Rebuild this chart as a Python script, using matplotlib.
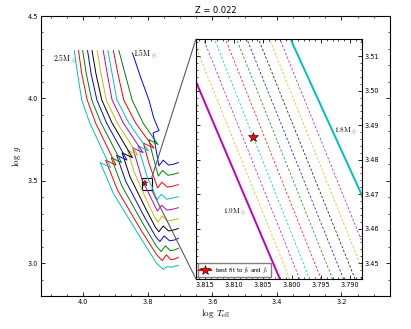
import numpy as np
import matplotlib
matplotlib.use('Agg')
import matplotlib.pyplot as plt
from matplotlib.ticker import MultipleLocator, FormatStrFormatter
from matplotlib.patches import Rectangle, ConnectionPatch

plt.rcParams['mathtext.fontset'] = 'cm'
plt.rcParams['axes.prop_cycle'] = plt.cycler(color=['b', 'g', 'r', 'c', 'm', 'y', 'k'])

# evolutionary tracks for Z = 0.022 : log Teff and log g
masses = [1.5, 1.6, 1.7, 1.8, 1.9, 2.0, 2.1, 2.2, 2.3, 2.4, 2.5]

t15 = [3.847, 3.822, 3.796, 3.781, 3.765, 3.783, 3.775, 3.765, 3.752, 3.735, 3.720, 3.705]
g15 = [4.275, 4.13, 3.99, 3.88, 3.805, 3.790, 3.700, 3.590, 3.625, 3.595, 3.600, 3.610]
t16 = [3.889, 3.870, 3.848, 3.814, 3.768, 3.796, 3.785, 3.767, 3.754, 3.737, 3.722, 3.705]
g16 = [4.29, 4.15, 3.99, 3.85, 3.720, 3.750, 3.660, 3.528, 3.563, 3.533, 3.538, 3.548]
t17 = [3.906, 3.892, 3.874, 3.837, 3.781, 3.813, 3.795, 3.769, 3.756, 3.739, 3.724, 3.705]
g17 = [4.29, 4.15, 3.99, 3.85, 3.698, 3.728, 3.600, 3.456, 3.491, 3.461, 3.466, 3.476]
t18 = [3.923, 3.910, 3.895, 3.858, 3.798, 3.830, 3.800, 3.788, 3.771, 3.758, 3.741, 3.726, 3.705]
g18 = [4.29, 4.15, 3.99, 3.85, 3.682, 3.712, 3.514, 3.470, 3.383, 3.418, 3.388, 3.393, 3.403]
t19 = [3.9375, 3.925, 3.910, 3.875, 3.814, 3.846, 3.8166, 3.8021, 3.770, 3.757, 3.740, 3.725, 3.705]
g19 = [4.29, 4.15, 3.99, 3.85, 3.670, 3.700, 3.5026, 3.4454, 3.316, 3.351, 3.321, 3.326, 3.336]
t20 = [3.956, 3.944, 3.928, 3.894, 3.830, 3.862, 3.842, 3.803, 3.7775, 3.768, 3.755, 3.738, 3.723, 3.705]
g20 = [4.29, 4.15, 3.99, 3.85, 3.655, 3.685, 3.5545, 3.3805, 3.276, 3.250, 3.285, 3.255, 3.260, 3.270]
t21 = [3.972, 3.960, 3.942, 3.910, 3.847, 3.879, 3.855, 3.807, 3.7765, 3.765, 3.752, 3.735, 3.720, 3.705]
g21 = [4.29, 4.15, 3.99, 3.85, 3.640, 3.670, 3.526, 3.334, 3.219, 3.190, 3.225, 3.195, 3.200, 3.210]
t22 = [3.986, 3.975, 3.957, 3.927, 3.864, 3.896, 3.868, 3.812, 3.7755, 3.762, 3.749, 3.732, 3.717, 3.705]
g22 = [4.29, 4.15, 3.99, 3.85, 3.625, 3.655, 3.4975, 3.2875, 3.1615, 3.130, 3.165, 3.135, 3.140, 3.150]
t23 = [4.001, 3.990, 3.973, 3.944, 3.881, 3.913, 3.880, 3.815, 3.7735, 3.758, 3.745, 3.730, 3.716, 3.705]
g23 = [4.29, 4.15, 3.99, 3.85, 3.610, 3.640, 3.469, 3.241, 3.104, 3.070, 3.105, 3.075, 3.080, 3.090]
t24 = [4.014, 4.004, 3.987, 3.961, 3.898, 3.930, 3.893, 3.820, 3.7725, 3.755, 3.742, 3.728, 3.715, 3.705]
g24 = [4.29, 4.15, 3.99, 3.85, 3.595, 3.625, 3.442, 3.198, 3.052, 3.015, 3.050, 3.020, 3.025, 3.035]
t25 = [4.027, 4.017, 4.004, 3.979, 3.915, 3.947, 3.906, 3.824, 3.772, 3.752, 3.740, 3.725, 3.713, 3.705]
g25 = [4.29, 4.15, 3.99, 3.85, 3.580, 3.610, 3.423, 3.160, 2.998, 2.962, 2.978, 2.975, 2.982, 2.985]

tracks = [(t15, g15), (t16, g16), (t17, g17), (t18, g18), (t19, g19), (t20, g20),
          (t21, g21), (t22, g22), (t23, g23), (t24, g24), (t25, g25)]

# finer grid 1.81 ... 1.89 Msun, only shown in the zoom (log Teff at the two log g levels)
fine_masses = [1.81, 1.82, 1.83, 1.84, 1.85, 1.86, 1.87, 1.88, 1.89]
fine_g = [3.52, 3.44]
fine_t_top = [3.8033, 3.8051, 3.8070, 3.8090, 3.8108, 3.8127, 3.8146, 3.8165, 3.8184]
fine_t_bot = [3.7840, 3.7859, 3.7878, 3.7898, 3.7917, 3.7937, 3.7957, 3.7974, 3.7991]

# best fit model
best_teff = 3.8067
best_logg = 3.4865

zoom_xlim = (3.8166, 3.7879)
zoom_ylim = (3.4454, 3.515)

fig = plt.figure(figsize=(4.11, 3.29), dpi=100)
ax = fig.add_axes([0.0998, 0.1003, 0.849, 0.851])

for t, g in tracks:
    ax.plot(t, g, lw=0.7)
ax.plot([best_teff], [best_logg], '*', color='r', mec='k', mew=0.3, ms=5)

ax.text(4.0185, 4.239, r'$\rm 2.5M_\odot$', ha='right', va='center', fontsize=5.5)
ax.text(3.846, 4.27, r'$\rm 1.5M_\odot$', ha='left', va='center', fontsize=5.5)

ax.set_xlim(4.13, 3.05)
ax.set_ylim(2.8, 4.5)
ax.xaxis.set_major_locator(MultipleLocator(0.2))
ax.xaxis.set_minor_locator(MultipleLocator(0.05))
ax.yaxis.set_major_locator(MultipleLocator(0.5))
ax.yaxis.set_minor_locator(MultipleLocator(0.1))
ax.tick_params(which='both', direction='in', top=True, right=True, labelsize=4.7, pad=2.5)
ax.tick_params(which='major', length=3, width=0.6)
ax.tick_params(which='minor', length=1.5, width=0.5)
ax.set_xlabel(r'$\log\ T_{\rm eff}$', fontsize=6.5, labelpad=1)
ax.set_ylabel(r'$\log\ g$', fontsize=6.5, labelpad=3)
ax.set_title('Z = 0.022', fontsize=6, pad=2)

# zoomed panel
axins = fig.add_axes([0.4769, 0.152, 0.4039, 0.7295])
for t, g in tracks:
    axins.plot(t, g, lw=1.4)
for i in range(len(fine_masses)):
    axins.plot([fine_t_top[i], fine_t_bot[i]], fine_g, '--', lw=0.5, dashes=(3.5, 2.5))
axins.plot([best_teff], [best_logg], 'r*-', mec='k', mew=0.4, ms=7,
           label=r'best fit to $f_0$ and $f_1$')
axins.text(3.7928, 3.4885, r'$\rm 1.8M_\odot$', ha='left', va='center', fontsize=5.3)
axins.text(3.8120, 3.4650, r'$\rm 1.9M_\odot$', ha='left', va='center', fontsize=5.3)
axins.set_xlim(*zoom_xlim)
axins.set_ylim(*zoom_ylim)
axins.xaxis.set_major_locator(MultipleLocator(0.005))
axins.xaxis.set_minor_locator(MultipleLocator(0.001))
axins.yaxis.set_major_locator(MultipleLocator(0.01))
axins.yaxis.set_minor_locator(MultipleLocator(0.002))
axins.yaxis.tick_right()
axins.tick_params(which='both', direction='in', top=True, left=True, right=True,
                  labelsize=4.7, pad=2)
axins.tick_params(which='major', length=3, width=0.6)
axins.tick_params(which='minor', length=1.5, width=0.5)
axins.xaxis.set_major_formatter(FormatStrFormatter('%.3f'))
axins.legend(loc='lower left', fontsize=4, numpoints=1, handlelength=2,
             borderpad=0.4, borderaxespad=0.3, framealpha=1, fancybox=False,
             edgecolor='0.5')

# box on the main panel and the lines to the zoom
ax.add_patch(Rectangle((zoom_xlim[1], zoom_ylim[0]), zoom_xlim[0] - zoom_xlim[1],
                       zoom_ylim[1] - zoom_ylim[0], fill=False, ec='k', lw=0.8))
for ya, yb in [(1, zoom_ylim[1]), (0, zoom_ylim[0])]:
    con = ConnectionPatch(xyA=(0, ya), coordsA=axins.transAxes,
                          xyB=(zoom_xlim[1], yb), coordsB=ax.transData,
                          color='0.35', lw=0.8)
    fig.add_artist(con)

fig.savefig('out.png', dpi=100)
